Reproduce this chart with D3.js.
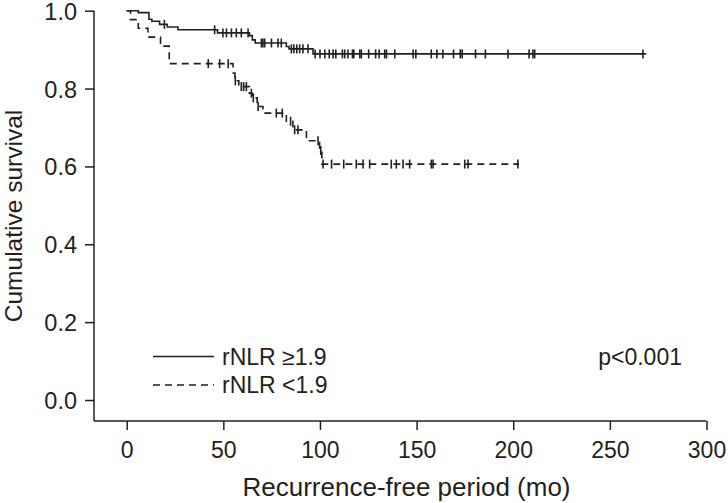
<!DOCTYPE html>
<html><head><meta charset="utf-8">
<script src="https://cdn.jsdelivr.net/npm/d3@7/dist/d3.min.js"></script>
<style>
html,body{margin:0;padding:0;background:#fff;}
svg text{font-family:"Liberation Sans",Arial,Helvetica,sans-serif;fill:#231f20;}
</style></head>
<body><svg id="c" width="728" height="503"></svg>
<script>
// ---- data ----
const xTicks = [0, 50, 100, 150, 200, 250, 300];
const yTicks = [0.0, 0.2, 0.4, 0.6, 0.8, 1.0];
const seriesNames = ["rNLR \u22651.9", "rNLR <1.9"];
const pText = "p<0.001";
const xTitle = "Recurrence-free period (mo)";
const yTitle = "Cumulative survival";

// rNLR >=1.9 : [time, survival after event]
const highSteps = [[0,1.0],[6,0.995],[11.5,0.978],[13,0.973],[17,0.965],[21,0.958],[26.5,0.951],
  [47,0.943],[63.5,0.936],[65,0.925],[66.5,0.917],[82.6,0.908],[84,0.902],[96.4,0.889]];
const highEnd = 268.8;
const highCensor = [19.5,45.5,49.8,51.6,54.2,56.7,59.3,62.8,69.7,70.5,71.4,74.9,78.3,80,85.2,86.5,88,89.5,91.2,93.8,
  97.5,100,102.5,104.8,106.8,108.2,111.6,112.8,114.5,116.8,117.5,120.6,121.4,125.2,128.8,130.6,133.5,134.4,138.7,
  148.2,149.6,157.6,160.5,163.6,169.1,172.6,173.6,180.5,185.6,197.3,208.2,210.2,211.1,267.1];

// rNLR <1.9
const lowSteps = [[0,1.0],[2,0.977],[6,0.955],[11,0.932],[17.5,0.909],[22,0.864],[55,0.84],[56,0.82],[58,0.805],
  [63.5,0.788],[65,0.776],[67.5,0.754],[70.5,0.737],[82.6,0.716],[86,0.694],[93,0.666],[99.8,0.641],[101,0.606]];
const lowEnd = 203;
const lowCensor = [42.2,48.1,52.5,56.2,59.3,60.5,61.9,64.5,65.5,68,77.4,80.5,84.8,86.9,88.6,99,100.4,
  101.6,106,112.3,118.8,122.3,125.7,136.9,139.5,143,146.4,157.6,158.5,174.9,176.6,202.4];

// ---- layout ----
const svg = d3.select("#c");
const x = d3.scaleLinear().domain([0,300]).range([126.7,706.5]);
const y = d3.scaleLinear().domain([0,1]).range([400,10.7]);
const axisX0 = 94, axisY0 = 421;
const ink = "#231f20";

// y axis
const gy = svg.append("g").attr("transform",`translate(${axisX0},0)`)
  .call(d3.axisLeft(y).tickValues(yTicks).tickFormat(d3.format(".1f")).tickSize(9).tickPadding(8));
gy.select(".domain").remove();
gy.selectAll("line").attr("stroke",ink).attr("stroke-width",1.5);
gy.selectAll("text").attr("font-size",23.5).attr("fill",ink).attr("dy","0.36em");
svg.append("line").attr("x1",axisX0).attr("x2",axisX0).attr("y1",y(1)).attr("y2",axisY0)
  .attr("stroke",ink).attr("stroke-width",1.5);

// x axis
const gx = svg.append("g").attr("transform",`translate(0,${axisY0})`)
  .call(d3.axisBottom(x).tickValues(xTicks).tickFormat(d3.format("d")).tickSize(9).tickPadding(12));
gx.select(".domain").remove();
gx.selectAll("line").attr("stroke",ink).attr("stroke-width",1.5);
gx.selectAll("text").attr("font-size",23).attr("fill",ink);
svg.append("line").attr("x1",axisX0).attr("x2",x(300)).attr("y1",axisY0).attr("y2",axisY0)
  .attr("stroke",ink).attr("stroke-width",1.5);

// titles
svg.append("text").attr("x",406.5).attr("y",496).attr("text-anchor","middle")
  .attr("font-size",26).text(xTitle);
svg.append("text").attr("transform",`translate(22,216) rotate(-90)`).attr("text-anchor","middle")
  .attr("font-size",24.5).text(yTitle);

// curves
function survAt(steps,t){let s=steps[0][1];for(const st of steps){if(st[0]<=t)s=st[1];}return s;}
const line = d3.line().x(d=>x(d[0])).y(d=>y(d[1])).curve(d3.curveStepAfter);
function drawCurve(steps,end,censor,dash){
  const pts = steps.concat([[end, steps[steps.length-1][1]]]);
  svg.append("path").datum(pts).attr("d",line).attr("fill","none").attr("stroke",ink)
    .attr("stroke-width",1.6).attr("stroke-dasharray",dash?"7,5":null);
  svg.append("g").selectAll("line").data(censor).join("line")
    .attr("x1",d=>x(d)).attr("x2",d=>x(d))
    .attr("y1",d=>y(survAt(steps,d))-4.5).attr("y2",d=>y(survAt(steps,d))+4.5)
    .attr("stroke",ink).attr("stroke-width",1.6);
}
drawCurve(highSteps,highEnd,highCensor,false);
drawCurve(lowSteps,lowEnd,lowCensor,true);

// legend
const leg = [[356.5,false],[385,true]];
leg.forEach((l,i)=>{
  svg.append("line").attr("x1",153).attr("x2",214).attr("y1",l[0]).attr("y2",l[0])
    .attr("stroke",ink).attr("stroke-width",1.6).attr("stroke-dasharray",l[1]?"7,5":null);
  svg.append("text").attr("x",222).attr("y",l[0]).attr("dy","0.36em").attr("font-size",23).text(seriesNames[i]);
});
svg.append("text").attr("x",682).attr("y",356.5).attr("dy","0.36em").attr("text-anchor","end")
  .attr("font-size",23).text(pText);
</script></body></html>
